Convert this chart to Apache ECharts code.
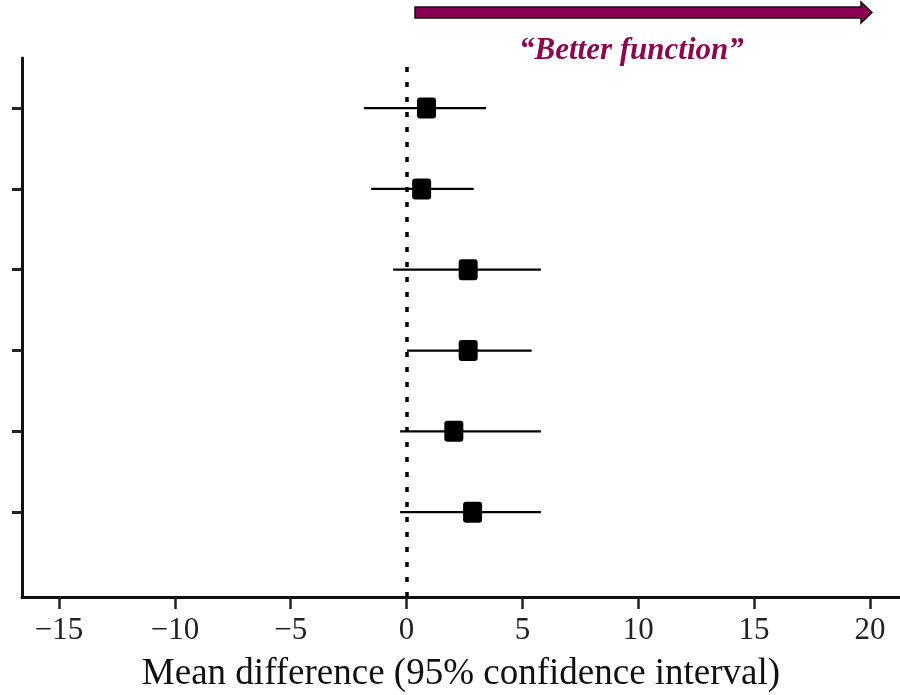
<!DOCTYPE html>
<html>
<head>
<meta charset="utf-8">
<script src="https://cdn.jsdelivr.net/npm/echarts@6/dist/echarts.min.js"></script>
<style>
html,body{margin:0;padding:0;background:#fff;}
#chart{width:900px;height:695px;}
</style>
</head>
<body>
<div id="chart"></div>
<script>
// Data (rows from bottom=1 to top=6)
const rows = [1, 2, 3, 4, 5, 6];
const estimate = [2.85, 2.04, 2.66, 2.66, 0.65, 0.86];
const lower = [-0.28, -0.28, 0.02, -0.58, -1.53, -1.84];
const upper = [5.8, 5.8, 5.4, 5.8, 2.9, 3.43];
const xTicks = [-15, -10, -5, 0, 5, 10, 15, 20];
const xTitle = 'Mean difference (95% confidence interval)';
const arrowLabel = '\u201CBetter function\u201D';

const ciData = rows.map((r, i) => [lower[i], upper[i], r, estimate[i]]);

const chart = echarts.init(document.getElementById('chart'));
const serif = '"Liberation Serif", "DejaVu Serif", serif';
const purple = '#8a0a50';

chart.setOption({
  animation: false,
  backgroundColor: '#fff',
  grid: {left: 22, right: 0, top: 58, bottom: 98, containLabel: false, outerBoundsMode: 'none'},
  xAxis: {
    type: 'value', min: -16.6, max: 21.3,
    splitLine: {show: false},
    axisLine: {show: true, onZero: false, lineStyle: {color: '#111', width: 3}},
    axisTick: {show: true, customValues: xTicks, length: 12, inside: false, lineStyle: {color: '#222', width: 2.5}},
    axisLabel: {customValues: xTicks, color: '#222', fontFamily: serif, fontSize: 31, margin: 18,
      formatter: v => (v < 0 ? '\u2212' + Math.abs(v) : String(v))},
    name: xTitle, nameLocation: 'middle', nameGap: 59,
    nameTextStyle: {color: '#111', fontFamily: serif, fontSize: 37}
  },
  yAxis: {
    type: 'value', min: -0.05, max: 6.62,
    splitLine: {show: false},
    axisLine: {show: true, onZero: false, lineStyle: {color: '#111', width: 3}},
    axisTick: {show: true, customValues: rows, length: 10, lineStyle: {color: '#222', width: 3}},
    axisLabel: {show: false}
  },
  graphic: [
    {type: 'polygon', shape: {points: [[415, 7], [861, 7], [861, 2], [872, 12.5], [861, 23], [861, 18], [415, 18]]},
      style: {fill: '#8b0050', stroke: '#111', lineWidth: 1.5}},
    {type: 'text', left: 519, top: 35,
      style: {text: arrowLabel, fill: purple, font: 'italic bold 31px ' + serif}}
  ],
  series: [
    {
      type: 'line', data: [], silent: true,
      markLine: {
        symbol: 'none', silent: true, label: {show: false},
        lineStyle: {color: '#000', width: 3.5, type: [5, 10]},
        data: [{xAxis: 0}]
      }
    },
    {
      type: 'custom', silent: true,
      data: ciData,
      renderItem: function (params, api) {
        const a = api.coord([api.value(0), api.value(2)]);
        const b = api.coord([api.value(1), api.value(2)]);
        const c = api.coord([api.value(3), api.value(2)]);
        return {type: 'group', children: [
          {type: 'line', shape: {x1: a[0], y1: a[1], x2: b[0], y2: b[1]},
            style: {stroke: '#000', lineWidth: 2.3}},
          {type: 'rect', shape: {x: c[0] - 9.5, y: c[1] - 10.5, width: 19, height: 21, r: 3},
            style: {fill: '#000'}}
        ]};
      },
      encode: {x: [0, 1, 3], y: 2}
    }
  ]
});
</script>
</body>
</html>
